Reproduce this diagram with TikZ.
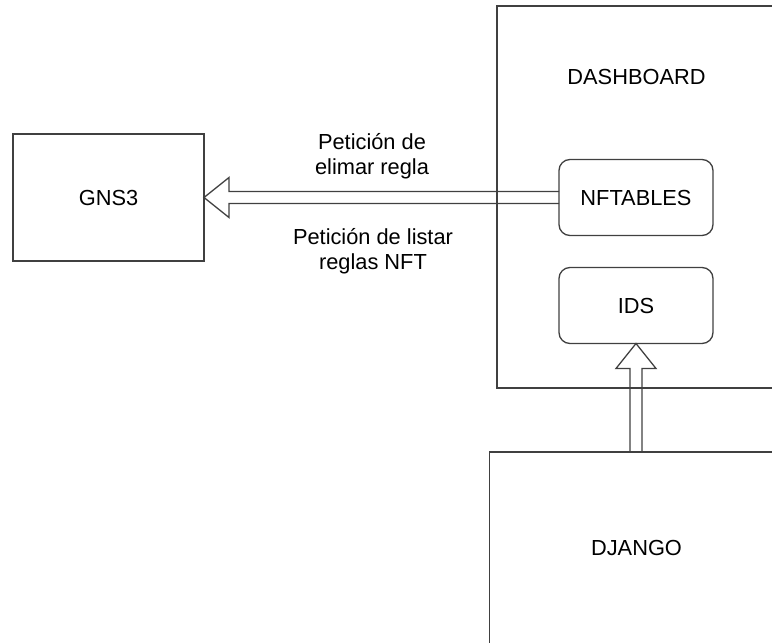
\documentclass[tikz,border=0pt]{standalone}
\usepackage{fontspec}
\setmainfont{Liberation Sans}
\usetikzlibrary{positioning}
\usetikzlibrary{calc}

\begin{document}
\begin{tikzpicture}[x=1pt, y=-1pt, font=\fontsize{21.8}{25}\selectfont]
    % Styles:
    \tikzset{box/.style={draw=black!75, line width=1.3pt, outer sep=0pt}}
    \tikzset{roundbox/.style={box, rounded corners=11pt, minimum width=154pt, minimum height=76pt}}
    \tikzset{hollow/.style={draw=black!75, line width=1.3pt, line join=miter}}
    \tikzset{lbl/.style={align=center, inner sep=0pt}}

    \path[use as bounding box, clip] (0,0) rectangle (772,643);

    % Main nodes:
    \node[box, minimum width=191pt, minimum height=127pt] (gns) at (108.5,197.5) {GNS3};
    \node[box, minimum width=279pt, minimum height=382pt] (dash) at (636.5,197) {};
    \node[lbl] (dashlbl) [below = 63pt of dash.north] {DASHBOARD};
    \node[roundbox] (nft) [right = 355pt of gns] {NFTABLES};
    \node[roundbox] (ids) [below = 32pt of nft] {IDS};
    \node[box, minimum width=294pt, minimum height=192pt] (django) [below = 64pt of dash] {DJANGO};

    % Labels:
    \node[lbl] (reqdel)  at (372,156) {Petición de\\elimar regla};
    \node[lbl] (reqlist) at (373,251) {Petición de listar\\reglas NFT};

    % Block arrows:
    \draw[hollow] ($(nft.west)+(0,-6)$) -- ($(gns.east)+(25,-6)$) -- ($(gns.east)+(25,-20)$)
        -- (gns.east) -- ($(gns.east)+(25,20)$) -- ($(gns.east)+(25,6)$) -- ($(nft.west)+(0,6)$);
    \draw[hollow] ($(ids.south |- django.north)+(-6,0)$) -- ($(ids.south)+(-6,25)$) -- ($(ids.south)+(-20,25)$)
        -- (ids.south) -- ($(ids.south)+(20,25)$) -- ($(ids.south)+(6,25)$) -- ($(ids.south |- django.north)+(6,0)$);
\end{tikzpicture}
\end{document}
